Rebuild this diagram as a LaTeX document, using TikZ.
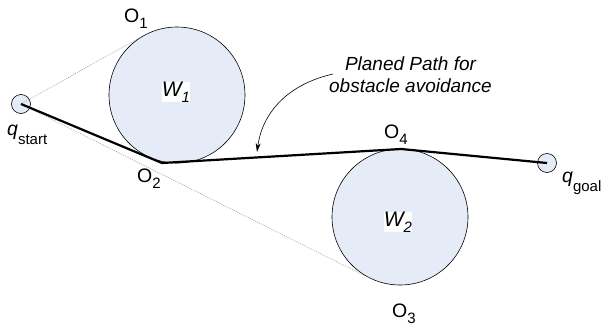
\documentclass[tikz,border=0pt]{standalone}
\usepackage{fontspec}
\setmainfont{Liberation Sans}
\usetikzlibrary{calc,arrows.meta}
\definecolor{obst}{HTML}{E6ECF7}
\newcommand\lowsub[2][6pt]{\raisebox{-#1}{\fontsize{15}{17}\selectfont #2}}
\begin{document}
\begin{tikzpicture}[x=1pt,y=-1pt,
  obstacle/.style={circle,draw,line width=0.6pt,fill=obst,minimum size=136pt,inner sep=0pt},
  endpt/.style={circle,draw,line width=0.6pt,fill=obst,minimum size=19pt,inner sep=0pt},
  lbl/.style={font=\fontsize{19.5}{22}\selectfont,inner sep=0pt},
  wlbl/.style={inner sep=0pt,fill=white,font=\fontsize{21}{24}\selectfont\itshape},
  aux/.style={gray,line width=0.4pt,dash pattern=on 1pt off 1pt},
  route/.style={line width=2.2pt,line join=round},
  note/.style={-{Stealth[length=9pt,width=5pt]},line width=0.6pt}]
\useasboundingbox (0,0) rectangle (608,327);
\node[obstacle] (W1) at (177,95) {};
\node[obstacle] (W2) at (400,217) {};
\node[endpt] (qs) at (21,104) {};
\node[endpt] (qg) at (547,163) {};
\coordinate (O2) at (162,163);
\coordinate (O4) at (401,149);
\draw[aux] (qs.center) -- (tangent cs:node=W1,point={(qs.center)},solution=2);
\draw[aux] (qs.center) -- (tangent cs:node=W2,point={(qs.center)},solution=1);
\draw[route] (qs.center) -- (O2) -- (O4) -- (qg.center);
\node[wlbl] (w1l) at (176,92) {W\lowsub{1}};
\node[wlbl] (w2l) at (398,222) {W\lowsub{2}};
\node[lbl,anchor=base west] (o1l) at (124,22) {O\lowsub{1}};
\node[lbl,anchor=base west] (o2l) at (137,182) {O\lowsub{2}};
\node[lbl,anchor=base west] (o3l) at (392,317) {O\lowsub{3}};
\node[lbl,anchor=base west] (o4l) at (384,138) {O\lowsub{4}};
\node[lbl,anchor=base west] (qsl) at (7,135) {\textit{q}\lowsub[9pt]{start}};
\node[lbl,anchor=base west] (qgl) at (562,182) {\textit{q}\lowsub[9pt]{goal}};
\node[inner sep=0pt,align=center,font=\fontsize{19}{22}\selectfont\itshape] (txt) at (410.5,75) {Planed Path for\\obstacle avoidance};
\coordinate (as) at (333,74);
\coordinate (ae) at (257,152);
\draw[note] (as) .. controls (285,85) and (262,115) .. (ae);
\end{tikzpicture}
\end{document}
